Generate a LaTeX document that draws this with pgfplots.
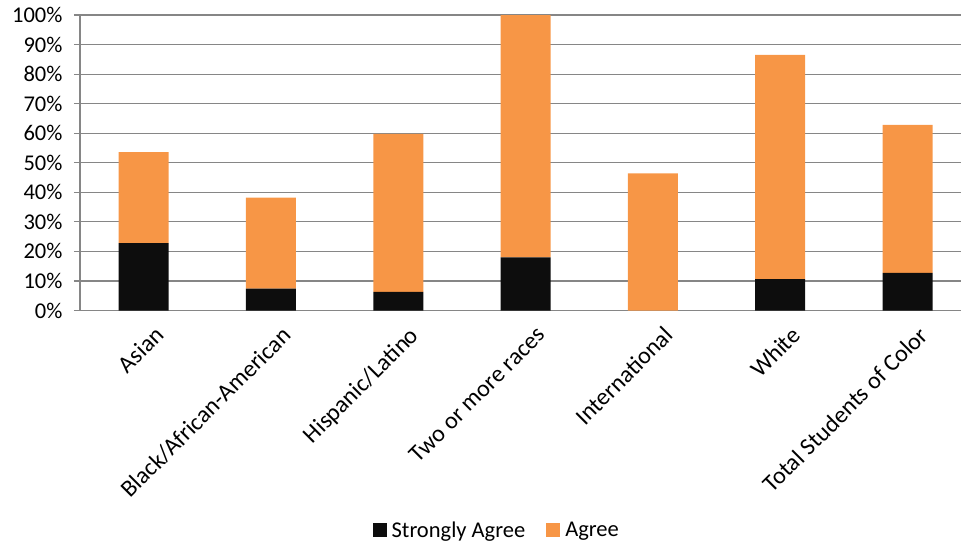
\documentclass[border=0pt]{standalone}
\usepackage{pgfplots}
\pgfplotsset{compat=1.18}
\usepackage{fontspec}
\setmainfont{Carlito}
\definecolor{sa}{RGB}{13,13,13}
\definecolor{ag}{RGB}{247,150,70}
\definecolor{gridc}{RGB}{134,134,134}
\begin{document}
\begin{tikzpicture}
\path[use as bounding box] (-80pt,-235.5pt) rectangle (881pt,310.5pt);
\begin{axis}[
  at={(0,0)}, anchor=south west,
  scale only axis,
  width=881pt, height=295.5pt,
  ybar stacked, bar width=50pt,
  xmin=-0.5, xmax=6.42,
  ymin=0, ymax=100,
  xtick={0,1,2,3,4,5,6},
  xticklabels={Asian,Black/African-American,Hispanic/Latino,Two or more races,International,White,Total Students of Color},
  x tick label style={rotate=45, anchor=north east, font=\fontsize{24}{26}\selectfont, inner sep=1pt, xshift=2pt, yshift=-12pt},
  major x tick style={draw=none},
  extra x ticks={-0.5,0.5,1.5,2.5,3.5,4.5,5.5},
  extra x tick labels={},
  extra x tick style={tick style={draw=gridc, line width=1.2pt}, major tick length=7pt, tick align=outside, grid=none},
  ytick={0,10,...,100},
  yticklabel={\pgfmathprintnumber{\tick}\%},
  y tick label style={font=\fontsize{22.5}{24}\selectfont, xshift=-8pt},
  /pgf/number format/assume math mode=true,
  ymajorgrids,
  grid style={draw=gridc, line width=1.2pt},
  y tick style={draw=gridc, line width=1.2pt},
  major tick length=6pt,
  tick align=outside,
  axis x line*=bottom, axis y line*=left,
  axis line style={draw=gridc, line width=1.4pt, -},
  legend style={at={(axis description cs:0.473,-0.743)}, anchor=center, draw=none, legend columns=2, font=\fontsize{22.5}{24}\selectfont, /tikz/every even column/.append style={column sep=19pt}, /tikz/every odd column/.append style={column sep=3pt}},
  legend image code/.code={\fill[#1] (0pt,-7pt) rectangle (14pt,7pt);},
  clip=false,
]
\addplot[fill=sa, draw=none] coordinates {(0,22.8) (1,7.4) (2,6.3) (3,18.0) (4,0) (5,10.6) (6,12.7)};
\addplot[fill=ag, draw=none] coordinates {(0,30.8) (1,30.8) (2,53.5) (3,82.0) (4,46.4) (5,75.9) (6,50.1)};
\legend{Strongly Agree,Agree}
\end{axis}
\end{tikzpicture}
\end{document}
